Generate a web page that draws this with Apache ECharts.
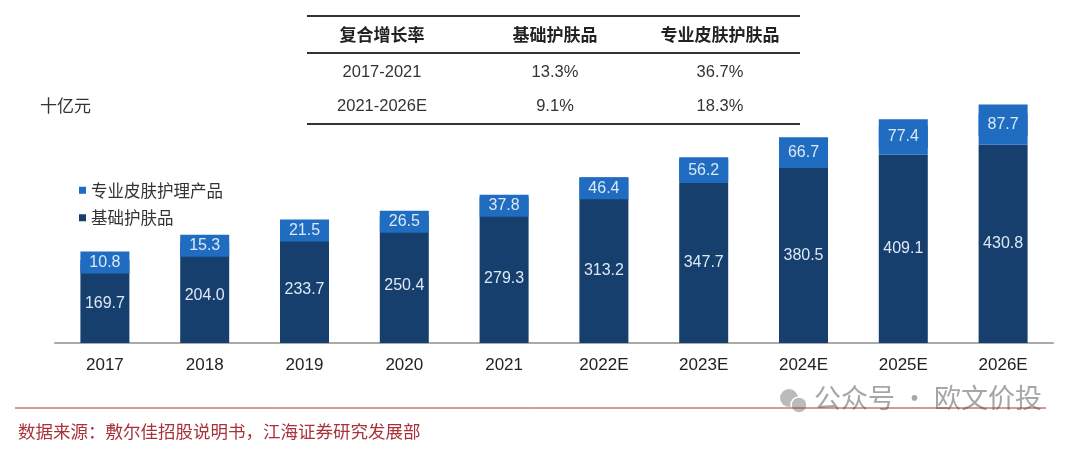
<!DOCTYPE html>
<html>
<head>
<meta charset="utf-8">
<title>护肤品市场规模</title>
<script src="https://cdn.jsdelivr.net/npm/echarts@6/dist/echarts.min.js"></script>
<style>
  html, body { margin: 0; padding: 0; background: #fff; }
  #chart { width: 1080px; height: 450px; }
</style>
</head>
<body>
<div id="chart"></div>
<script>
// 十亿元
const years = ['2017', '2018', '2019', '2020', '2021', '2022E', '2023E', '2024E', '2025E', '2026E'];
const basicSkincare = [169.7, 204.0, 233.7, 250.4, 279.3, 313.2, 347.7, 380.5, 409.1, 430.8];
const proSkincare = [10.8, 15.3, 21.5, 26.5, 37.8, 46.4, 56.2, 66.7, 77.4, 87.7];

// 复合增长率 table
const cagrHeader = ['复合增长率', '基础护肤品', '专业皮肤护肤品'];
const cagrPeriods = ['2017-2021', '2021-2026E'];
const cagrBasic = ['13.3%', '9.1%'];
const cagrPro = ['36.7%', '18.3%'];

const chart = echarts.init(document.getElementById('chart'));

const navy = '#173f6d';
const blue = '#1f6cc1';
const font = '"Liberation Sans", Arial, "Noto Sans CJK SC", sans-serif';
const cjk = '"Noto Sans CJK SC", sans-serif';

// table columns (center x) and rows (center y)
const colX = [382, 555, 720];
const rowY = [35, 72, 106];
const tableText = [];
cagrHeader.forEach((t, i) => {
  tableText.push({
    type: 'text', x: colX[i], y: rowY[0],
    style: { text: t, font: 'bold 17px ' + cjk, fill: '#222', align: 'center', verticalAlign: 'middle' }
  });
});
cagrPeriods.forEach((p, r) => {
  [p, cagrBasic[r], cagrPro[r]].forEach((t, i) => {
    tableText.push({
      type: 'text', x: colX[i], y: rowY[r + 1],
      style: { text: t, font: '16.5px ' + font, fill: '#333', align: 'center', verticalAlign: 'middle' }
    });
  });
});
const tableLines = [16, 53, 124].map(y => ({
  type: 'line',
  shape: { x1: 307, y1: y, x2: 800, y2: y },
  style: { stroke: '#333', lineWidth: 2 }
}));

const option = {
  animation: false,
  textStyle: { fontFamily: font },
  grid: { left: 55, right: 27, top: 67, bottom: 107 },
  legend: {
    orient: 'vertical',
    left: 74,
    top: 177,
    itemWidth: 7,
    itemHeight: 7,
    itemGap: 11,
    icon: 'rect',
    textStyle: { fontSize: 16.5, color: '#333', fontFamily: cjk },
    data: ['专业皮肤护理产品', '基础护肤品']
  },
  xAxis: {
    type: 'category',
    data: years,
    axisLine: { lineStyle: { color: '#aaa', width: 2 } },
    axisTick: { show: false },
    axisLabel: { fontSize: 17, color: '#222', margin: 14 }
  },
  yAxis: {
    type: 'value',
    min: 0,
    max: 600,
    show: false
  },
  series: [
    {
      name: '基础护肤品',
      type: 'bar',
      stack: 'total',
      barWidth: 49,
      data: basicSkincare,
      itemStyle: { color: navy },
      label: {
        show: true,
        position: 'inside',
        formatter: p => p.value.toFixed(1),
        fontSize: 16,
        color: '#dce8f6'
      }
    },
    {
      name: '专业皮肤护理产品',
      type: 'bar',
      stack: 'total',
      barWidth: 49,
      data: proSkincare,
      itemStyle: { color: blue },
      label: {
        show: true,
        position: 'inside',
        formatter: p => p.value.toFixed(1),
        fontSize: 16,
        color: '#dce8f6',
        backgroundColor: blue,
        width: 49,
        height: 22,
        lineHeight: 22,
        align: 'center',
        padding: 0
      }
    }
  ],
  graphic: [
    ...tableLines,
    ...tableText,
    {
      type: 'text', left: 40, top: 97,
      style: { text: '十亿元', font: '17px ' + cjk, fill: '#333' }
    },
    // watermark
    {
      type: 'circle', shape: { cx: 789, cy: 398, r: 9 },
      style: { fill: '#bbb' }
    },
    {
      type: 'circle', shape: { cx: 799, cy: 405, r: 8 },
      style: { fill: '#bbb', stroke: '#fff', lineWidth: 1.5 }
    },
    {
      type: 'text', left: 814, top: 384,
      style: { text: '公众号 · 欧文价投', font: '27px ' + cjk, fill: 'rgba(150,150,150,0.85)' }
    },
    {
      type: 'line',
      shape: { x1: 15, y1: 408, x2: 1046, y2: 408 },
      style: { stroke: '#a8323a', lineWidth: 1 }
    },
    {
      type: 'text', left: 18, top: 423,
      style: { text: '数据来源：敷尔佳招股说明书，江海证券研究发展部', font: '17.5px ' + cjk, fill: '#a8323a' }
    }
  ]
};

chart.setOption(option);
</script>
</body>
</html>
